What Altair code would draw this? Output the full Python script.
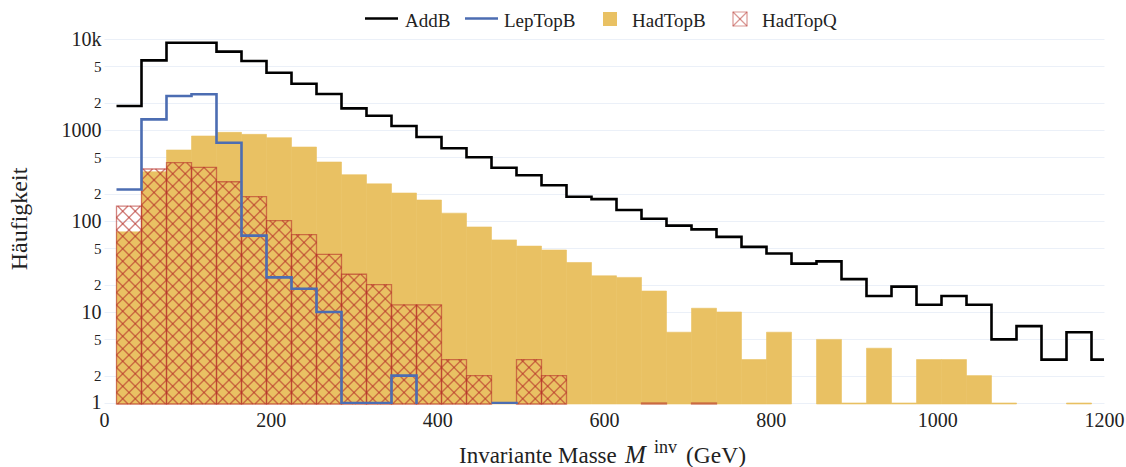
import math
import altair as alt
import pandas as pd

# ---------------- data ----------------
bin_left = [15, 45, 75, 105, 135, 165, 195, 225, 255, 285, 315, 345, 375, 405,
            435, 465, 495, 525, 555, 585, 615, 645, 675, 705, 735, 765, 795, 825,
            855, 885, 915, 945, 975, 1005, 1035, 1065, 1095, 1125, 1155, 1185]
bin_width = 30

add_b = [1835, 5830, 9100, 9100, 7260, 5730, 4265, 3228, 2488, 1730, 1436, 1108,
         838, 630, 501, 385, 318, 247, 185, 174, 132, 106, 89, 81, 67, 52, 44, 34,
         36, 23, 15, 19, 12, 15, 12, 5, 7, 3, 6, 3]
lep_top_b = [222, 1310, 2364, 2467, 725, 69, 24, 18, 10, 1, 1, 2, 0, 0, 0, 1, 0, 0,
             0, 0, 0, 0, 0, 0, 0, 0, 0, 0, 0, 0, 0, 0, 0, 0, 0, 0, 0, 0, 0, 0]
had_top_b = [76, 348, 603, 859, 942, 896, 824, 650, 445, 323, 256, 203, 170, 122,
             86, 62, 53, 48, 35, 25, 24, 17, 6, 11, 10, 3, 6, 0, 5, 1, 4, 1, 3, 3,
             2, 1, 0, 0, 1, 0]
had_top_q = [146, 373, 437, 389, 270, 185, 101, 71, 43, 26, 20, 12, 12, 3, 2, 0, 3,
             2, 0, 0, 0, 1, 0, 1, 0, 0, 0, 0, 0, 0, 0, 0, 0, 0, 0, 0, 0, 0, 0, 0]

x_ticks = [0, 200, 400, 600, 800, 1000, 1200]
y_ticks = [1, 2, 5, 10, 20, 50, 100, 200, 500, 1000, 2000, 5000, 10000]
series_names = ["AddB", "LepTopB", "HadTopB", "HadTopQ"]
x_title_parts = ["Invariante Masse", "M", "inv", "(GeV)"]
y_title = "Häufigkeit"

# ---------------- layout / style ----------------
W, H = 1000, 374
X_MIN, X_MAX = 0, 1200
Y_MIN, Y_MAX = 0.975, 12560
FONT = "Liberation Serif"
TXT = "#222222"
C_ADD = "#000000"
C_LEP = "#4C6DB2"
C_HADB = "#E9C163"
C_HADQ = "#B5302A"
Q_OP = 0.6
GRID = "#EBF0F8"

xscale = alt.Scale(domain=[X_MIN, X_MAX], nice=False, zero=False)
yscale = alt.Scale(type="log", domain=[Y_MIN, Y_MAX], nice=False)

major = "datum.value==1||datum.value==10||datum.value==100||datum.value==1000||datum.value==10000"
x_axis = alt.Axis(values=x_ticks, title=None, grid=False, domain=False, ticks=False,
                  format="d",
                  labelFont=FONT, labelFontSize=20, labelColor=TXT, labelPadding=6,
                  labelFlush=False, labelOverlap=False)
y_axis = alt.Axis(values=y_ticks, title=None, grid=True, gridColor=GRID, gridWidth=1,
                  domain=False, ticks=False, labelFont=FONT, labelColor=TXT,
                  labelPadding=3, labelOverlap=False,
                  labelFontSize={"condition": {"test": major, "value": 20}, "value": 15},
                  labelExpr="datum.value >= 10000 ? '10k' : ((" + major +
                            ") ? format(datum.value,'d') : substring(format(datum.value,'d'),0,1))")


def X(field):
    return alt.X(field, type="quantitative", scale=xscale, axis=x_axis)


def Y(field):
    return alt.Y(field, type="quantitative", scale=yscale, axis=y_axis)


# bars
def bar_df(values):
    rows = [dict(left=l, right=l + bin_width, value=v, base=Y_MIN)
            for l, v in zip(bin_left, values) if v > 0]
    return pd.DataFrame(rows)


hadb = alt.Chart(bar_df(had_top_b)).mark_rect(
    color=C_HADB, stroke=C_HADB, strokeWidth=0.6).encode(
    x=X("left"), x2="right", y=Y("value"), y2="base")

hadq_outline = alt.Chart(bar_df(had_top_q)).mark_rect(
    fill="transparent", stroke=C_HADQ, strokeWidth=1.3, strokeOpacity=Q_OP).encode(
    x=X("left"), x2="right", y=Y("value"), y2="base")

# hatch ("x" pattern) computed in data space so it goes through the scales
LMIN, LMAX = math.log10(Y_MIN), math.log10(Y_MAX)


def px_x(v):
    return (v - X_MIN) / (X_MAX - X_MIN) * W


def px_y(v):
    return (LMAX - math.log10(v)) / (LMAX - LMIN) * H


def dx(p):
    return X_MIN + p * (X_MAX - X_MIN) / W


def dy(p):
    return 10 ** (LMAX - p / H * (LMAX - LMIN))


P = 12.5
hrows = []
for l, v in zip(bin_left, had_top_q):
    if v <= 1:
        continue
    x0, x1 = px_x(l), px_x(l + bin_width)
    yt, yb = px_y(v), H
    for k in range(math.floor((yt - x1) / P) - 1, math.ceil((yb - x0) / P) + 2):
        c = k * P
        a, b = max(x0, yt - c), min(x1, yb - c)
        if b - a > 0.3:
            hrows.append(dict(xa=dx(a), xb=dx(b), ya=dy(a + c), yb=dy(b + c)))
    for k in range(math.floor((yt + x0) / P) - 1, math.ceil((yb + x1) / P) + 2):
        c = k * P
        a, b = max(x0, c - yb), min(x1, c - yt)
        if b - a > 0.3:
            hrows.append(dict(xa=dx(a), xb=dx(b), ya=dy(c - a), yb=dy(c - b)))

hatch = alt.Chart(pd.DataFrame(hrows)).mark_rule(
    stroke=C_HADQ, strokeWidth=1.4, strokeOpacity=Q_OP).encode(
    x=X("xa"), x2="xb", y=Y("ya"), y2="yb")


# step lines
def step_df(values):
    rows, seg, idx = [], 0, 0
    for i, (l, v) in enumerate(zip(bin_left, values)):
        if v > 0:
            rows.append(dict(x=l, value=v, seg=seg, idx=idx)); idx += 1
            nxt = values[i + 1] if i + 1 < len(values) else None
            if nxt is None:
                rows.append(dict(x=l + bin_width, value=v, seg=seg, idx=idx)); idx += 1
            elif nxt <= 0:
                rows.append(dict(x=l + bin_width, value=v, seg=seg, idx=idx)); idx += 1
                rows.append(dict(x=l + bin_width, value=Y_MIN, seg=seg, idx=idx)); idx += 1
                seg += 1
    return pd.DataFrame(rows)


def step_line(values, color):
    return alt.Chart(step_df(values)).mark_line(
        interpolate="step-after", color=color, strokeWidth=2.6, clip=True).encode(
        x=X("x"), y=Y("value"), detail="seg:N", order="idx:Q")


add_line = step_line(add_b, C_ADD)
lep_line = step_line(lep_top_b, C_LEP)

# ---------------- texts and legend (pixel positions) ----------------
one = pd.DataFrame({"a": [0]})


def text(t, x, y, size, align="left", baseline="alphabetic", style="normal", angle=0):
    return alt.Chart(one).mark_text(
        text=t, font=FONT, fontSize=size, color=TXT, align=align, baseline=baseline,
        fontStyle=style, angle=angle).encode(x=alt.value(x), y=alt.value(y))


def hrule(x1, x2, y, color, width=2.6):
    return alt.Chart(one).mark_rule(color=color, strokeWidth=width).encode(
        x=alt.value(x1), x2=alt.value(x2), y=alt.value(y))


OX, OY = 104, 30  # plot origin in the page
leg_y = 27.3 - OY
items = [
    hrule(365 - OX, 398 - OX, 18.5 - OY, C_ADD),
    text(series_names[0], 405 - OX, leg_y, 19),
    hrule(465 - OX, 498 - OX, 18.5 - OY, C_LEP),
    text(series_names[1], 504 - OX, leg_y, 19),
    alt.Chart(one).mark_rect(color=C_HADB).encode(
        x=alt.value(603 - OX), x2=alt.value(617 - OX),
        y=alt.value(12 - OY), y2=alt.value(26 - OY)),
    text(series_names[2], 632 - OX, leg_y, 19),
    alt.Chart(one).mark_rect(fill="transparent", stroke=C_HADQ, strokeOpacity=0.5,
                             strokeWidth=1.2).encode(
        x=alt.value(733 - OX), x2=alt.value(747 - OX),
        y=alt.value(12 - OY), y2=alt.value(26 - OY)),
    alt.Chart(one).mark_rule(stroke=C_HADQ, strokeOpacity=0.5, strokeWidth=1.2).encode(
        x=alt.value(733 - OX), x2=alt.value(747 - OX),
        y=alt.value(12 - OY), y2=alt.value(26 - OY)),
    alt.Chart(one).mark_rule(stroke=C_HADQ, strokeOpacity=0.5, strokeWidth=1.2).encode(
        x=alt.value(733 - OX), x2=alt.value(747 - OX),
        y=alt.value(26 - OY), y2=alt.value(12 - OY)),
    text(series_names[3], 762 - OX, leg_y, 19),
]

titles = [
    text(x_title_parts[0], 459 - OX, 463 - OY, 23),
    text(x_title_parts[1], 625 - OX, 463 - OY, 25, style="italic"),
    text(x_title_parts[2], 654 - OX, 453 - OY, 18),
    text(x_title_parts[3], 686 - OX, 463 - OY, 23.5),
    text(y_title, 20 - OX, 219 - OY, 24, align="center", baseline="middle", angle=270),
]

chart = alt.layer(hadb, hatch, hadq_outline, add_line, lep_line, *items, *titles).properties(
    width=W, height=H,
    padding={"left": OX, "top": OY, "right": 1126 - OX - W, "bottom": 467 - OY - H},
    autosize=alt.AutoSizeParams(type="none"),
    background="white",
).configure_view(stroke=None)

chart.save("out.html", embed_options={"renderer": "svg", "actions": False})
